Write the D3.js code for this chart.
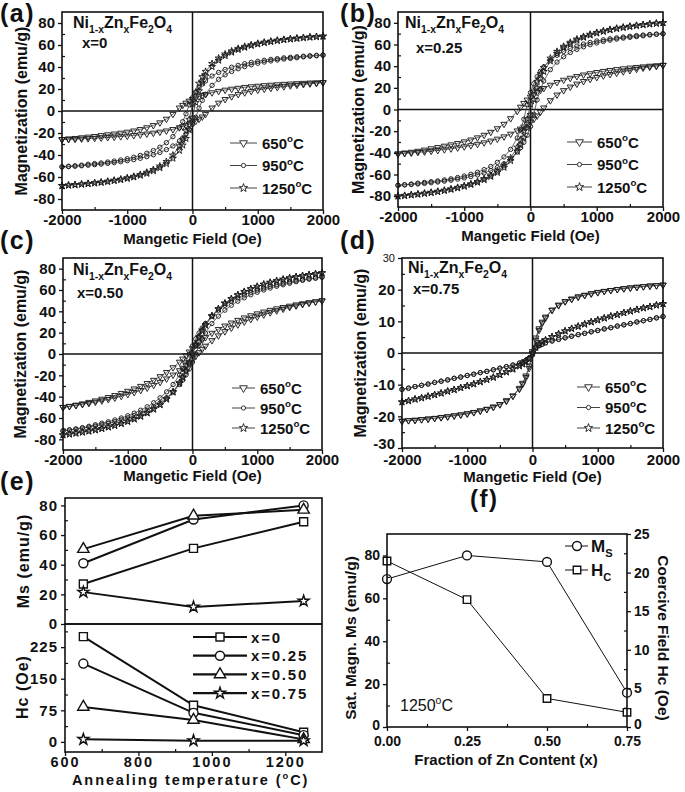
<!DOCTYPE html>
<html>
<head>
<meta charset="utf-8">
<title>Ni-Zn ferrite magnetisation</title>
<script src="https://cdn.jsdelivr.net/npm/d3@7/dist/d3.min.js"></script>
<style>
  body { margin: 0; background: #fff; }
  text { font-family: "Liberation Sans", Arial, Helvetica, sans-serif; font-weight: bold; fill: #111; }
</style>
</head>
<body>
<svg id="fig" width="685" height="792"></svg>
<script>
// field steps of the loops (Oe)
var fieldOe = [-2000,-1900,-1800,-1700,-1600,-1500,-1400,-1300,-1200,-1100,-1000,-900,-800,-700,-600,-500,-400,-300,-200,-150,-100,-50,
  0,50,100,150,200,300,400,500,600,700,800,900,1000,1100,1200,1300,1400,1500,1600,1700,1800,1900,2000];

// descending branch of each loop, M in emu/g (ascending branch = same loop turned through the origin)
var x0_650 = [-25.8,-25.2,-24.8,-24.2,-23.6,-23.0,-22.2,-21.5,-20.8,-20.0,-19.1,-18.0,-16.7,-15.1,-13.1,-10.6,-7.3,-2.9,2.9,5.3,7.3,9.1,
  10.6,11.9,13.1,14.1,15.1,16.7,18.0,19.1,20.0,20.8,21.5,22.2,22.7,23.2,23.6,24.0,24.4,24.7,25.0,25.3,25.6,25.8,26.0];
var x0_950 = [-50.7,-50.2,-49.8,-49.2,-48.4,-47.8,-47.2,-46.4,-45.5,-44.5,-43.4,-42.0,-40.4,-38.4,-36.0,-32.9,-28.8,-23.3,-15.2,-9.7,-2.6,5.7,
  12.1,17.1,21.2,24.5,27.3,31.8,35.1,37.7,39.8,41.5,43.0,44.2,45.2,46.1,46.9,47.6,48.3,48.8,49.3,49.8,50.2,50.6,50.9];
var x0_1250 = [-67.8,-67.4,-67.0,-66.5,-65.9,-65.3,-64.7,-63.9,-63.0,-62.0,-60.8,-59.5,-57.8,-55.8,-53.3,-50.2,-46.0,-40.2,-31.8,-25.9,-18.2,-7.7,
  6.2,17.1,25.1,31.1,35.9,43.0,48.0,51.7,54.5,56.8,58.6,60.1,61.4,62.5,63.4,64.3,65.0,65.6,66.2,66.7,67.2,67.6,68.0];

var x025_650 = [-40.8,-40.0,-39.3,-38.4,-37.3,-36.1,-35.0,-33.7,-32.5,-31.2,-29.7,-28.0,-26.0,-23.6,-20.9,-17.6,-13.5,-8.3,-1.6,2.3,5.8,8.9,
  11.5,13.9,16.0,17.9,19.6,22.6,25.1,27.2,29.0,30.6,32.0,33.2,34.3,35.3,36.2,37.0,37.7,38.4,39.0,39.5,40.1,40.5,41.0];
var x025_950 = [-69.9,-69.4,-68.8,-68.0,-67.3,-66.6,-65.9,-65.0,-64.0,-62.8,-61.4,-59.8,-57.9,-55.5,-52.6,-48.8,-43.8,-36.8,-26.3,-18.8,-8.9,4.4,
  15.6,23.8,30.2,35.2,39.3,45.6,50.1,53.6,56.4,58.6,60.4,61.9,63.2,64.3,65.3,66.1,66.9,67.6,68.2,68.7,69.2,69.6,70.0];
var x025_1250 = [-79.9,-79.4,-78.8,-78.1,-77.3,-76.5,-75.6,-74.6,-73.4,-72.0,-70.5,-68.7,-66.5,-63.9,-60.7,-56.8,-51.6,-44.7,-34.9,-28.3,-19.9,-9.1,
  4.9,16.8,25.8,32.9,38.6,47.3,53.5,58.2,61.9,64.9,67.3,69.3,71.0,72.5,73.8,74.9,75.9,76.8,77.6,78.3,79.0,79.6,80.1];

var x050_650 = [-49.9,-48.9,-47.8,-46.6,-45.2,-43.8,-42.2,-40.6,-38.8,-36.8,-34.8,-32.6,-30.2,-27.5,-24.5,-21.1,-17.2,-12.7,-7.5,-4.6,-1.4,2.0,
  5.2,8.1,10.7,13.2,15.5,19.6,23.2,26.4,29.2,31.7,34.0,36.0,37.8,39.5,41.1,42.5,43.8,45.0,46.2,47.2,48.2,49.1,50.0];
var x050_950 = [-72.0,-71.1,-70.2,-69.1,-67.8,-66.3,-64.9,-63.5,-61.8,-60.0,-57.9,-55.5,-52.7,-49.5,-45.7,-41.1,-35.5,-28.6,-19.6,-14.1,-7.6,0.0,
  7.6,14.1,19.6,24.4,28.6,35.5,41.1,45.7,49.5,52.7,55.5,57.9,60.0,61.8,63.5,64.9,66.3,67.5,68.6,69.5,70.5,71.3,72.1];
var x050_1250 = [-76.0,-75.1,-74.2,-73.3,-72.3,-71.2,-69.9,-68.5,-67.0,-65.2,-63.2,-60.9,-58.3,-55.2,-51.6,-47.3,-42.0,-35.3,-26.8,-21.5,-15.3,-8.0,
  0.8,9.3,16.4,22.4,27.6,35.9,42.4,47.7,51.8,55.4,58.5,61.1,63.3,65.3,67.1,68.6,70.0,71.3,72.4,73.4,74.3,75.2,76.0];

var x075_650 = [-21.5,-21.3,-21.2,-21.0,-20.8,-20.6,-20.3,-20.1,-19.8,-19.5,-19.1,-18.7,-18.2,-17.7,-17.0,-16.2,-15.0,-13.5,-11.1,-9.5,-7.2,-4.1,
  0.5,4.8,7.7,9.8,11.4,13.6,15.2,16.3,17.1,17.8,18.3,18.8,19.2,19.5,19.8,20.1,20.4,20.6,20.8,21.0,21.2,21.3,21.5];
var x075_950 = [-11.5,-11.1,-10.6,-10.2,-9.8,-9.3,-8.9,-8.5,-8.0,-7.6,-7.1,-6.7,-6.2,-5.8,-5.3,-4.8,-4.3,-3.8,-3.2,-2.8,-2.3,-1.5,
  0.1,1.6,2.3,2.8,3.2,3.8,4.3,4.8,5.3,5.8,6.2,6.7,7.1,7.6,8.0,8.5,8.9,9.3,9.8,10.2,10.6,11.1,11.5];
var x075_1250 = [-15.5,-15.1,-14.6,-14.2,-13.7,-13.2,-12.7,-12.1,-11.6,-11.0,-10.4,-9.8,-9.1,-8.4,-7.7,-6.9,-6.0,-5.1,-4.1,-3.5,-2.8,-1.8,
  0.1,1.8,2.8,3.5,4.1,5.1,6.0,6.9,7.7,8.4,9.1,9.8,10.4,11.0,11.6,12.1,12.7,13.2,13.7,14.2,14.6,15.1,15.5];

// panel (e): Ms and Hc against annealing temperature
var annealT = [650, 950, 1250];
var msX0 = [27, 51, 69], msX025 = [41, 70.5, 80], msX050 = [50.5, 73, 77], msX075 = [21.5, 11.5, 15.5];
var hcX0 = [250, 87, 23], hcX025 = [186, 69, 16], hcX050 = [83, 52, 6], hcX075 = [6, 3, 3];
var compLabels = ["x=0", "x=0.25", "x=0.50", "x=0.75"];

// panel (f): samples annealed at 1250 C
var zincX = [0, 0.25, 0.5, 0.75];
var msAt1250 = [69, 80, 77, 16];
var hcAt1250 = [21.5, 16.5, 3.7, 1.9];

var tempLabels = ["650", "950", "1250"];

var svg = d3.select("#fig");
var ink = "#111";

// text with sub/superscript pieces
function richText(g, x, y, size, parts) {
  var t = g.append("text").attr("x", x).attr("y", y).attr("font-size", size);
  var shift = 0;
  parts.forEach(function(p) {
    var s = p[1] === "sub" ? size * 0.3 : p[1] === "sup" ? -size * 0.42 : 0;
    t.append("tspan").attr("dy", s - shift).attr("font-size", p[1] ? size * 0.65 : size).text(p[0]);
    shift = s;
  });
  return t;
}

function axis(g, orient, scale, at, major, minor, fmt, size, spacing, pad) {
  var make = {left: d3.axisLeft, right: d3.axisRight, bottom: d3.axisBottom}[orient];
  var tr = orient === "bottom" ? "translate(0," + at + ")" : "translate(" + at + ",0)";
  var a = g.append("g").attr("transform", tr)
    .call(make(scale).tickValues(major).tickSize(4).tickPadding(pad == null ? 3 : pad).tickFormat(fmt));
  a.attr("font-family", null).attr("font-size", null);
  a.select(".domain").remove();
  a.selectAll(".tick line").attr("stroke", ink).attr("stroke-width", 1.3);
  a.selectAll(".tick text").attr("fill", ink).style("font-size", size + "px")
    .style("letter-spacing", (spacing || 0) + "px");
  if (minor) {
    var m = g.append("g").attr("transform", tr)
      .call(make(scale).tickValues(minor).tickSize(-3).tickFormat(""));
    m.select(".domain").remove();
    m.selectAll(".tick line").attr("stroke", ink).attr("stroke-width", 1.2);
  }
  return a;
}

// lift the label of the lowest tick so it clears the x labels below it
function liftLowest(a, value, px) {
  a.selectAll(".tick text").filter(function(d) { return d === value; }).attr("y", -px);
}

function frame(g, l, t, r, b) {
  g.append("rect").attr("x", l).attr("y", t).attr("width", r - l).attr("height", b - t)
    .attr("fill", "none").attr("stroke", ink).attr("stroke-width", 1.6);
}

var loopStyles = [
  {shape: d3.symbolTriangle, rot: 180, size: 17, legSize: 26},
  {shape: d3.symbolCircle, rot: 0, size: 15, legSize: 14},
  {shape: d3.symbolStar, rot: 0, size: 15, legSize: 22}
];

function loopPanel(p) {
  var g = svg.append("g");
  var x = d3.scaleLinear().domain([-2000, 2000]).range([p.left, p.right]);
  var y = d3.scaleLinear().domain(p.yDomain).range([p.bottom, p.top]);
  var line = d3.line().x(function(d) { return x(d[0]); }).y(function(d) { return y(d[1]); });

  g.append("line").attr("x1", x(0)).attr("x2", x(0)).attr("y1", p.top).attr("y2", p.bottom)
    .attr("stroke", ink).attr("stroke-width", 1.5);
  g.append("line").attr("x1", p.left).attr("x2", p.right).attr("y1", y(0)).attr("y2", y(0))
    .attr("stroke", ink).attr("stroke-width", 1.5);

  p.series.forEach(function(vals, k) {
    var st = loopStyles[k];
    var down = fieldOe.map(function(h, i) { return [h, vals[i]]; });
    var up = fieldOe.map(function(h, i) { return [-h, -vals[i]]; });
    [down, up].forEach(function(branch) {
      g.append("path").attr("d", line(branch)).attr("fill", "none")
        .attr("stroke", "#444").attr("stroke-width", 0.8);
      g.append("g").selectAll("path").data(branch).join("path")
        .attr("transform", function(d) { return "translate(" + x(d[0]) + "," + y(d[1]) + ") rotate(" + st.rot + ")"; })
        .attr("d", d3.symbol(st.shape, st.size))
        .attr("fill", "none").attr("stroke", "#1e1e1e").attr("stroke-width", 0.95);
    });
  });

  frame(g, p.left, p.top, p.right, p.bottom);
  axis(g, "bottom", x, p.bottom, [-2000, -1000, 0, 1000, 2000], [-1500, -500, 500, 1500], String, 15, 0, p.xPad || 0);
  var ya = axis(g, "left", y, p.left, p.yMajor, p.yMinor, String, 15);
  if (p.smallTop) {
    ya.selectAll(".tick text").filter(function(d) { return d === p.yDomain[1]; })
      .style("font-size", "11px").style("font-weight", "normal");
    liftLowest(ya, p.yDomain[0], 4);
  }

  g.append("text").attr("x", (p.left + p.right) / 2).attr("y", p.xTitleY)
    .attr("text-anchor", "middle").attr("font-size", 15).text("Mangetic Field (Oe)");
  g.append("text").attr("transform", "translate(" + p.yTitleX + "," + (p.top + p.bottom) / 2 + ") rotate(-90)")
    .attr("text-anchor", "middle").attr("dy", "0.35em").attr("font-size", 16).text("Magnetization (emu/g)");
  g.append("text").attr("x", p.tagX).attr("y", p.tagY).attr("font-size", 25)
    .attr("letter-spacing", 1.5).text(p.tag);

  richText(g, p.fx, p.fy, 16, [["Ni"], ["1-x", "sub"], ["Zn"], ["x", "sub"], ["Fe"], ["2", "sub"], ["O"], ["4", "sub"]]);
  g.append("text").attr("x", p.cx).attr("y", p.cy).attr("font-size", 15).text(p.comp);

  loopStyles.forEach(function(st, k) {
    var ly = p.legY + k * p.legGap;
    g.append("line").attr("x1", p.legX1).attr("x2", p.legX2).attr("y1", ly).attr("y2", ly)
      .attr("stroke", "#444").attr("stroke-width", 1);
    g.append("path").attr("transform", "translate(" + (p.legX1 + p.legX2) / 2 + "," + ly + ") rotate(" + st.rot + ")")
      .attr("d", d3.symbol(st.shape, st.legSize)).attr("fill", "#fff").attr("stroke", "#333").attr("stroke-width", 1);
    richText(g, p.legX2 + 5, ly + 5.5, 15, [[tempLabels[k]], ["o", "sup"], ["C"]]);
  });
}

var yTicks90 = [-80, -60, -40, -20, 0, 20, 40, 60, 80];
var yMinor90 = [-70, -50, -30, -10, 10, 30, 50, 70];

loopPanel({tag: "(a)", tagX: 0, tagY: 22, left: 62, right: 323, top: 12, bottom: 210,
  yDomain: [-90, 90], yMajor: yTicks90, yMinor: yMinor90, xTitleY: 244, yTitleX: 21,
  fx: 73, fy: 28, cx: 82, cy: 48, comp: "x=0", series: [x0_650, x0_950, x0_1250],
  legY: 143, legGap: 22.5, legX1: 230, legX2: 257});

loopPanel({tag: "(b)", tagX: 340, tagY: 22, left: 398, right: 663, top: 12, bottom: 207,
  yDomain: [-90, 90], yMajor: yTicks90, yMinor: yMinor90, xTitleY: 241, yTitleX: 358,
  fx: 405, fy: 28, cx: 416, cy: 53, comp: "x=0.25", series: [x025_650, x025_950, x025_1250],
  legY: 142, legGap: 22.5, legX1: 567, legX2: 592});

loopPanel({tag: "(c)", tagX: 0, tagY: 249, left: 63, right: 322, top: 258, bottom: 450,
  yDomain: [-90, 90], yMajor: yTicks90, yMinor: yMinor90, xTitleY: 481, yTitleX: 20,
  fx: 73, fy: 275, cx: 77, cy: 298, comp: "x=0.50", series: [x050_650, x050_950, x050_1250],
  legY: 388, legGap: 20, legX1: 232, legX2: 255});

loopPanel({tag: "(d)", tagX: 340, tagY: 249, left: 402, right: 663, top: 258, bottom: 448,
  yDomain: [-30, 30], yMajor: [-30, -20, -10, 0, 10, 20, 30], yMinor: [-25, -15, -5, 5, 15, 25],
  smallTop: true, xPad: 2, xTitleY: 482, yTitleX: 360,
  fx: 408, fy: 273, cx: 413, cy: 294, comp: "x=0.75", series: [x075_650, x075_950, x075_1250],
  legY: 387, legGap: 20.5, legX1: 577, legX2: 600});

// ---- panel (e) ----
(function() {
  var g = svg.append("g");
  var left = 65, right = 322, top = 498, mid = 624, bottom = 752;
  var x = d3.scaleLinear().domain([600, 1300]).range([left, right]);
  var yMs = d3.scaleLinear().domain([0, 85]).range([mid, top]);
  var yHc = d3.scaleLinear().domain([-24, 280]).range([bottom, mid]);
  var series = [
    {ms: msX0, hc: hcX0, shape: d3.symbolSquare, size: 64},
    {ms: msX025, hc: hcX025, shape: d3.symbolCircle, size: 64},
    {ms: msX050, hc: hcX050, shape: d3.symbolTriangle, size: 56},
    {ms: msX075, hc: hcX075, shape: d3.symbolStar, size: 38}
  ];
  function drawSet(vals, yScale, s) {
    var pts = annealT.map(function(t, i) { return [x(t), yScale(vals[i])]; });
    g.append("path").attr("d", d3.line()(pts)).attr("fill", "none").attr("stroke", ink).attr("stroke-width", 2);
    g.append("g").selectAll("path").data(pts).join("path")
      .attr("transform", function(d) { return "translate(" + d[0] + "," + d[1] + ")"; })
      .attr("d", d3.symbol(s.shape, s.size)).attr("fill", "#fff").attr("stroke", ink).attr("stroke-width", 1.4);
  }
  series.forEach(function(s) { drawSet(s.ms, yMs, s); drawSet(s.hc, yHc, s); });

  frame(g, left, top, right, mid);
  frame(g, left, mid, right, bottom);
  axis(g, "left", yMs, left, [0, 20, 40, 60, 80], [10, 30, 50, 70], String, 15, 1);
  axis(g, "left", yHc, left, [0, 75, 150, 225], [37.5, 112.5, 187.5, 262.5], String, 15, 1);
  axis(g, "bottom", x, bottom, [600, 800, 1000, 1200], [700, 900, 1100], String, 14.5, 2, 1);

  g.append("text").attr("transform", "translate(23,561) rotate(-90)").attr("text-anchor", "middle")
    .attr("dy", "0.35em").attr("font-size", 16).attr("letter-spacing", 1).text("Ms (emu/g)");
  g.append("text").attr("transform", "translate(22,687) rotate(-90)").attr("text-anchor", "middle")
    .attr("dy", "0.35em").attr("font-size", 16).attr("letter-spacing", 1).text("Hc (Oe)");
  richText(g, 72, 785, 14.5, [["Annealing temperature ("], ["o", "sup"], ["C)"]]).attr("letter-spacing", 1.9);
  g.append("text").attr("x", 0).attr("y", 490).attr("font-size", 25).attr("letter-spacing", 1.5).text("(e)");

  series.forEach(function(s, k) {
    var ly = 637 + k * 18.7;
    g.append("line").attr("x1", 193).attr("x2", 247).attr("y1", ly).attr("y2", ly)
      .attr("stroke", ink).attr("stroke-width", 2.2);
    g.append("path").attr("transform", "translate(220," + ly + ")").attr("d", d3.symbol(s.shape, s.size))
      .attr("fill", "#fff").attr("stroke", ink).attr("stroke-width", 1.4);
    g.append("text").attr("x", 251).attr("y", ly + 5.5).attr("font-size", 15)
      .attr("letter-spacing", 1.8).text(compLabels[k]);
  });
})();

// ---- panel (f) ----
(function() {
  var g = svg.append("g");
  var left = 387, right = 627, top = 534, bottom = 727;
  var x = d3.scaleLinear().domain([0, 0.75]).range([left, right]);
  var yMs = d3.scaleLinear().domain([0, 90]).range([bottom, top]);
  var yHc = d3.scaleLinear().domain([0, 25]).range([bottom, top]);

  var msPts = zincX.map(function(z, i) { return [x(z), yMs(msAt1250[i])]; });
  var hcPts = zincX.map(function(z, i) { return [x(z), yHc(hcAt1250[i])]; });
  [[msPts, d3.symbolCircle, 62], [hcPts, d3.symbolSquare, 56]].forEach(function(s) {
    g.append("path").attr("d", d3.line()(s[0])).attr("fill", "none").attr("stroke", ink).attr("stroke-width", 1);
    g.append("g").selectAll("path").data(s[0]).join("path")
      .attr("transform", function(d) { return "translate(" + d[0] + "," + d[1] + ")"; })
      .attr("d", d3.symbol(s[1], s[2])).attr("fill", "#fff").attr("stroke", ink).attr("stroke-width", 1.4);
  });

  frame(g, left, top, right, bottom);
  var la = axis(g, "left", yMs, left, [0, 20, 40, 60, 80], [10, 30, 50, 70], String, 14);
  var ra = axis(g, "right", yHc, right, [0, 5, 10, 15, 20, 25], [2.5, 7.5, 12.5, 17.5, 22.5], String, 14);
  liftLowest(la, 0, 2);
  liftLowest(ra, 0, 3);
  axis(g, "bottom", x, bottom, [0, 0.25, 0.5, 0.75], [0.125, 0.375, 0.625], d3.format(".2f"), 14, 0, 5);

  g.append("text").attr("x", (left + right) / 2 - 1).attr("y", 765).attr("text-anchor", "middle")
    .attr("font-size", 15).text("Fraction of Zn Content (x)");
  g.append("text").attr("transform", "translate(351,638) rotate(-90)").attr("text-anchor", "middle")
    .attr("dy", "0.35em").attr("font-size", 15.5).text("Sat. Magn. Ms (emu/g)");
  g.append("text").attr("transform", "translate(663,638) rotate(90)").attr("text-anchor", "middle")
    .attr("dy", "0.35em").attr("font-size", 15.5).text("Coercive Field Hc (Oe)");
  g.append("text").attr("x", 470).attr("y", 507).attr("font-size", 24).attr("letter-spacing", 1.5).text("(f)");
  richText(g, 400, 711, 16, [["1250"], ["o", "sup"], ["C"]]).style("font-weight", "normal");

  [["M", "S", d3.symbolCircle, 546, 62], ["H", "C", d3.symbolSquare, 570, 56]].forEach(function(l) {
    g.append("line").attr("x1", 565).attr("x2", 588).attr("y1", l[3]).attr("y2", l[3])
      .attr("stroke", ink).attr("stroke-width", 1);
    g.append("path").attr("transform", "translate(577," + l[3] + ")").attr("d", d3.symbol(l[2], l[4]))
      .attr("fill", "#fff").attr("stroke", ink).attr("stroke-width", 1.4);
    richText(g, 591, l[3] + 6, 17, [[l[0]], [l[1], "sub"]]);
  });
})();
</script>
</body>
</html>
